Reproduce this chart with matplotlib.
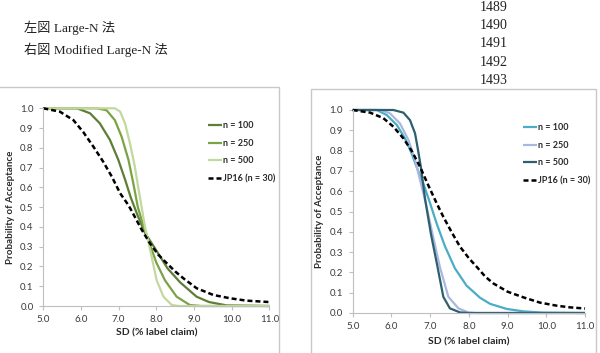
import matplotlib
matplotlib.use('Agg')
import matplotlib.pyplot as plt
from matplotlib.patches import Rectangle

# ---- data ----
# left figure: Large-N
left_x_100 = [5.0, 5.89, 6.24, 6.5, 6.77, 6.99, 7.17, 7.32, 7.5, 7.7, 7.97, 8.3, 8.63, 9.07, 9.4, 9.87, 11.0]
left_y_100 = [1.0, 1.0, 0.975, 0.924, 0.84, 0.74, 0.64, 0.55, 0.46, 0.37, 0.29, 0.19, 0.12, 0.047, 0.02, 0.003, 0.0]
left_x_250 = [5.0, 6.42, 6.68, 6.9, 7.08, 7.26, 7.39, 7.51, 7.65, 7.83, 8.0, 8.23, 8.54, 8.89, 9.2, 11.0]
left_y_250 = [1.0, 1.0, 0.99, 0.94, 0.856, 0.74, 0.62, 0.50, 0.41, 0.31, 0.22, 0.13, 0.047, 0.005, 0.0, 0.0]
left_x_500 = [5.0, 6.9, 7.04, 7.17, 7.3, 7.43, 7.52, 7.61, 7.7, 7.83, 8.01, 8.19, 8.41, 8.6, 11.0]
left_y_500 = [1.0, 1.0, 0.983, 0.924, 0.823, 0.705, 0.60, 0.50, 0.40, 0.29, 0.13, 0.047, 0.005, 0.0, 0.0]
left_x_jp = [5.0, 5.44, 5.8, 6.06, 6.33, 6.59, 6.82, 7.04, 7.26, 7.39, 7.6, 7.83, 8.05, 8.28, 8.5, 8.72,
             9.07, 9.51, 9.96, 10.4, 11.0]
left_y_jp = [1.0, 0.983, 0.94, 0.88, 0.806, 0.73, 0.654, 0.57, 0.51, 0.465, 0.39, 0.317, 0.26, 0.216, 0.175, 0.14,
             0.09, 0.056, 0.039, 0.027, 0.02]

# right figure: Modified Large-N
right_x_100 = [5.0, 5.62, 5.88, 6.14, 6.35, 6.52, 6.65, 6.82, 7.0, 7.17, 7.38, 7.64, 7.94, 8.29, 8.55, 8.98,
               9.41, 9.9, 11.0]
right_y_100 = [1.0, 1.0, 0.975, 0.926, 0.86, 0.787, 0.72, 0.64, 0.54, 0.44, 0.33, 0.22, 0.135, 0.075, 0.045, 0.02,
               0.008, 0.002, 0.0]
right_x_250 = [5.0, 5.70, 5.96, 6.22, 6.44, 6.61, 6.74, 6.89, 7.06, 7.25, 7.47, 7.73, 7.98, 8.2, 11.0]
right_y_250 = [1.0, 1.0, 0.984, 0.934, 0.852, 0.754, 0.655, 0.54, 0.39, 0.228, 0.08, 0.023, 0.003, 0.0, 0.0]
right_x_500 = [5.0, 6.05, 6.31, 6.48, 6.61, 6.69, 6.76, 6.87, 7.02, 7.19, 7.34, 7.51, 7.77, 8.0, 11.0]
right_y_500 = [1.0, 1.0, 0.987, 0.95, 0.885, 0.80, 0.72, 0.56, 0.39, 0.228, 0.08, 0.023, 0.003, 0.0, 0.0]
right_x_jp = [5.0, 5.45, 5.79, 6.05, 6.31, 6.52, 6.74, 6.95, 7.17, 7.34, 7.55, 7.77, 8.0, 8.2, 8.42, 8.63,
              9.0, 9.41, 9.84, 10.27, 10.6, 11.0]
right_y_jp = [1.0, 0.987, 0.96, 0.918, 0.86, 0.80, 0.72, 0.63, 0.54, 0.474, 0.40, 0.327, 0.27, 0.228, 0.18, 0.146,
              0.105, 0.077, 0.051, 0.036, 0.028, 0.022]

labels = ['n = 100', 'n = 250', 'n = 500', 'JP16 (n = 30)']
left_colors = ['#5e7d36', '#7aa344', '#c2d89c']
right_colors = ['#4aacc6', '#a9b8e0', '#2f5f6e']

x_ticks = [5.0, 6.0, 7.0, 8.0, 9.0, 10.0, 11.0]
y_ticks = [0.0, 0.1, 0.2, 0.3, 0.4, 0.5, 0.6, 0.7, 0.8, 0.9, 1.0]

W, H = 600, 353
CHART_FONT = 'Lato'


def px(x, y):
    # pixel (from top-left) -> figure fraction
    return x / W, 1 - y / H


def draw_panel(fig, rect, series, colors, legend_xy, ylab_x, xlab_y):
    ax = fig.add_axes(rect)
    for (xs, ys), c, lab in zip(series[:3], colors, labels[:3]):
        ax.plot(xs, ys, color=c, lw=1.6, label=lab, clip_on=False, solid_capstyle='butt')
    xs, ys = series[3]
    ax.plot(xs, ys, color='black', lw=1.8, dashes=(2.0, 1.2), label=labels[3], clip_on=False)

    ax.set_xlim(5, 11)
    ax.set_ylim(0, 1)
    ax.set_xticks(x_ticks)
    ax.set_yticks(y_ticks)
    ax.set_xticklabels(['%.1f' % v for v in x_ticks])
    ax.set_yticklabels(['%.1f' % v for v in y_ticks])
    for s in ['top', 'right']:
        ax.spines[s].set_visible(False)
    for s in ['left', 'bottom']:
        ax.spines[s].set_color('#bfbfbf')
        ax.spines[s].set_linewidth(0.8)
    ax.tick_params(direction='out', length=3, width=0.8, color='#bfbfbf',
                   labelcolor='#3a3a3a', labelsize=7)
    ax.tick_params(axis='y', pad=4)
    ax.tick_params(axis='x', pad=3.5)
    for t in ax.get_xticklabels() + ax.get_yticklabels():
        t.set_family(CHART_FONT)

    ax.set_xlabel('SD (% label claim)', fontsize=7.5, fontweight='bold', family=CHART_FONT,
                  color='#2a2a2a', va='center')
    ax.set_ylabel('Probability of Acceptance', fontsize=7, fontweight='bold', family=CHART_FONT,
                  color='#2a2a2a', va='center')
    ax.xaxis.set_label_coords(0.5, xlab_y)
    ax.yaxis.set_label_coords(ylab_x, 0.5)

    leg = ax.legend(loc='upper left', bbox_to_anchor=px(*legend_xy), bbox_transform=fig.transFigure,
                    frameon=False, handlelength=1.55, handletextpad=0.1, labelspacing=0.94,
                    borderpad=0, borderaxespad=0,
                    prop={'family': CHART_FONT, 'weight': 'bold', 'size': 6.5})
    for t in leg.get_texts():
        t.set_color('#2a2a2a')
    return ax


def main():
    fig = plt.figure(figsize=(6, 3.53), dpi=100)

    serif = ['Liberation Serif', 'Noto Sans CJK JP']
    fig.text(*px(24, 28), '左図 Large-N 法', family=serif, fontsize=9.5, va='center', color='#222222')
    fig.text(*px(24, 50), '右図 Modified Large-N 法', family=serif, fontsize=9.5, va='center', color='#222222')
    for i, n in enumerate(range(1489, 1494)):
        fig.text(*px(508, 7.5 + 18.2 * i), str(n), family=serif, fontsize=10, ha='right', va='center',
                 color='#222222')

    # panel borders
    fig.patches.append(Rectangle(px(-5, 400), 284 / W, (400 - 87) / H, transform=fig.transFigure,
                                 fill=False, edgecolor='#c8c8c8', lw=1))
    fig.patches.append(Rectangle(px(311, 400), 285 / W, (400 - 89) / H, transform=fig.transFigure,
                                 fill=False, edgecolor='#c8c8c8', lw=1))

    x0, y1 = px(43.3, 108.3)
    x1, y0 = px(269.3, 306)
    draw_panel(fig, [x0, y0, x1 - x0, y1 - y0],
               [(left_x_100, left_y_100), (left_x_250, left_y_250),
                (left_x_500, left_y_500), (left_x_jp, left_y_jp)],
               left_colors, (208.3, 121.5), -32.3 / 226, -27 / 197.7)

    x0, y1 = px(352.7, 110)
    x1, y0 = px(585, 313)
    draw_panel(fig, [x0, y0, x1 - x0, y1 - y0],
               [(right_x_100, right_y_100), (right_x_250, right_y_250),
                (right_x_500, right_y_500), (right_x_jp, right_y_jp)],
               right_colors, (523.3, 123.5), -33.7 / 232.3, -29 / 203)

    fig.savefig('out.png', dpi=100)


if __name__ == '__main__':
    main()
